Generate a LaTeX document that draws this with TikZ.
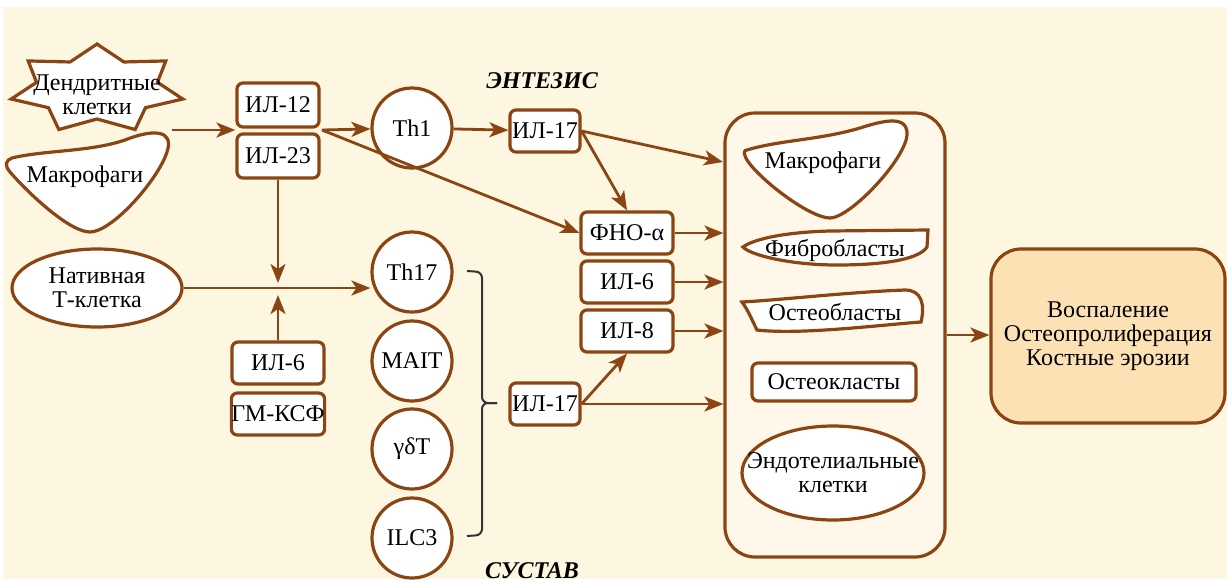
\documentclass[tikz,border=0pt]{standalone}
\usepackage{fontspec}
\setmainfont{Liberation Serif}
\usetikzlibrary{arrows.meta,shapes.geometric}

\definecolor{brn}{RGB}{139,69,19}
\definecolor{cream}{RGB}{253,246,224}
\definecolor{paper}{RGB}{255,247,233}
\definecolor{peach}{RGB}{252,225,180}

\begin{document}
\begin{tikzpicture}[x=0.5pt, y=-0.5pt,
	every node/.style={font=\fontsize{12}{12}\selectfont, align=center, inner sep=0pt},
	cyt/.style={draw=brn, line width=1.6pt, fill=white, rounded corners=3pt, minimum height=21pt},
	tcell/.style={circle, draw=brn, line width=1.6pt, fill=white, minimum size=40pt},
	blob/.style={draw=brn, line width=1.6pt, fill=white},
	arr/.style={draw=brn, line width=1.4pt, -{Stealth[length=9.5pt, width=7.5pt, inset=2.5pt]}},
	bracket/.style={draw=black!80, line width=1pt, rounded corners=3pt}]
	
	\fill[cream] (3,7) rectangle (1227,579);
	\useasboundingbox (0,0) rectangle (1227,579);
	
	% left column
	\draw[blob, shift={(97,89)}] (-90:88 and 45) \foreach \a in {0,...,6} { -- ({-90+\a*360/7+180/7}:62 and 30) -- ({-90+(\a+1)*360/7}:88 and 45) } -- cycle;
	\node (dc) at (97,95) {Дендритные\\клетки};
	\draw[blob] (12,158) .. controls (45,150) and (90,152) .. (125,140) .. controls (150,130) and (175,128) .. (167,152) .. controls (158,180) and (112,232) .. (90,232) .. controls (70,232) and (30,195) .. (10,172) .. controls (4,165) and (6,160) .. cycle;
	\node (mf) at (85,177) {Макрофаги};
	\coordinate (src) at (172,130);
	\node[ellipse, draw=brn, line width=1.6pt, fill=white, minimum width=85pt, minimum height=39pt] (nt) at (97,288) {Нативная\\Т-клетка};
	
	\node[cyt, minimum width=41pt, minimum height=22pt] (il12) at (278,105) {ИЛ-12};
	\node[cyt, minimum width=41pt, minimum height=22pt] (il23) at (278,156) {ИЛ-23};
	\coordinate (ilout) at (322,130);
	\coordinate (jn) at (278,289);
	\node[cyt, minimum width=46pt] (il6a) at (278,363) {ИЛ-6};
	\node[cyt, minimum width=46pt] (gm) at (278,414) {ГМ-КСФ};
	
	\node[tcell] (th1) at (412,128) {Th1};
	\node[tcell] (th17) at (412,272) {Th17};
	\node[tcell] (mait) at (412,361) {MAIT};
	\node[tcell] (gdt) at (412,449) {γδT};
	\node[tcell] (ilc) at (412,538) {ILC3};
	\draw[bracket] (467,271) -- (482,272) -- (482,403) -- (497,403);
	\draw[bracket] (497,403) -- (482,403) -- (482,535) -- (467,536);
	
	\node[cyt, minimum width=35pt] (il17a) at (545,131) {ИЛ-17};
	\node[cyt, minimum width=46pt] (tnf) at (627,233) {ФНО-α};
	\node[cyt, minimum width=46pt] (il6b) at (627,282) {ИЛ-6};
	\node[cyt, minimum width=46pt] (il8) at (627,331) {ИЛ-8};
	\node[cyt, minimum width=35pt] (il17b) at (545,404) {ИЛ-17};
	
	\node[anchor=base, font=\fontsize{12}{12}\selectfont\bfseries\itshape] (ent) at (542,88) {ЭНТЕЗИС};
	\node[anchor=base, font=\fontsize{12}{12}\selectfont\bfseries\itshape] (sus) at (532,578) {СУСТАВ};
	
	% tissue cells
	\node[draw=brn, line width=1.6pt, fill=paper, rounded corners=15pt, minimum width=110pt, minimum height=222pt] (tis) at (835,335) {};
	\draw[blob] (747,150) .. controls (780,140) and (820,140) .. (860,128) .. controls (885,120) and (908,115) .. (907,135) .. controls (905,160) and (850,218) .. (830,218) .. controls (810,218) and (760,180) .. (747,160) .. controls (743,153) and (744,150) .. cycle;
	\node (mf2) at (823,163) {Макрофаги};
	\draw[blob] (743,247) .. controls (755,238) and (790,232) .. (830,231) -- (928,230) -- (927,247) .. controls (920,258) and (890,265) .. (837,265) .. controls (790,265) and (750,255) .. cycle;
	\node (fb) at (835,250) {Фибробласты};
	\draw[blob] (742,302) .. controls (780,300) and (850,292) .. (905,290) .. controls (922,290) and (925,305) .. (921,322) .. controls (880,325) and (800,335) .. (757,330) .. controls (752,320) and (748,310) .. cycle;
	\node (ob) at (835,312) {Остеобласты};
	\node[cyt, minimum width=82pt, minimum height=19pt] (oc) at (834,382) {Остеокласты};
	\node[ellipse, draw=brn, line width=1.6pt, fill=white, minimum width=91pt, minimum height=47pt] (en) at (833,473) {};
	\node (ent2) at (en) {Эндотелиальные\\клетки};
	\coordinate (m1) at (723,162);
	
	\node[draw=brn, line width=1.6pt, fill=peach, rounded corners=15pt, minimum width=117pt, minimum height=87pt] (out) at (1108,336) {Воспаление\\Остеопролиферация\\Костные эрозии};
	
	\draw[arr] (src) -- (src -| il12.west);
	\draw[arr] (ilout) -- (th1);
	\draw[arr] (ilout) -- (tnf.west);
	\draw[arr] (th1) -- (il17a);
	\draw[arr] (il17a.east) -- (m1);
	\draw[arr] (il17a.east) -- (tnf.north);
	\draw[arr] (tnf) -- (tnf -| tis.west);
	\draw[arr] (il6b) -- (il6b -| tis.west);
	\draw[arr] (il8) -- (il8 -| tis.west);
	\draw[arr] (il17b) -- (il17b -| tis.west);
	\draw[arr] (il17b.east) -- (il8.south);
	\draw[arr, shorten >=3pt] (il23) -- (jn);
	\draw[arr, shorten >=3pt] (il6a) -- (jn);
	\draw[arr] (nt.east) -- (nt.east -| th17.west);
	\draw[arr] (tis.east) -- (tis.east -| out.west);
\end{tikzpicture}
\end{document}
